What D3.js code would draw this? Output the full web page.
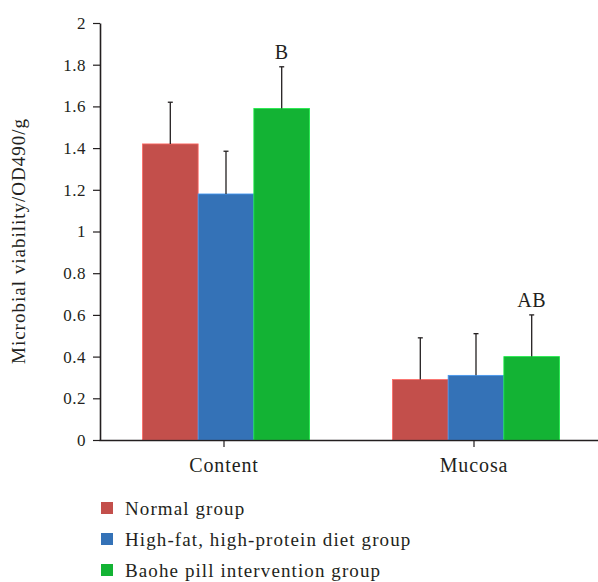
<!DOCTYPE html>
<html><head><meta charset="utf-8">
<script src="https://cdn.jsdelivr.net/npm/d3@7"></script>
<style>body{margin:0;background:#fff}svg{display:block}text{font-family:"Liberation Serif","Times New Roman",serif;fill:#231f20}</style>
</head><body><svg id="c" width="598" height="582"></svg>
<script>
const categories = ["Content", "Mucosa"];
const groups = ["Normal group", "High-fat, high-protein diet group", "Baohe pill intervention group"];
const colors = ["#c34f4b", "#3472b7", "#13b334"];
const means = [[1.42, 1.18, 1.59], [0.29, 0.31, 0.40]];
const errTops = [[1.62, 1.385, 1.79], [0.49, 0.51, 0.60]];
const sigLabels = [["", "", "B"], ["", "", "AB"]];
const yTicks = [0, 0.2, 0.4, 0.6, 0.8, 1, 1.2, 1.4, 1.6, 1.8, 2];
const yLabel = "Microbial viability/OD490/g";

const svg = d3.select("#c");
const x0 = d3.scaleBand().domain(categories).range([99, 599]);
const y = d3.scaleLinear().domain([0, 2]).range([440, 23]);
const barW = 55.7;
const x1 = d3.scaleBand().domain(d3.range(3)).range([-barW*1.5, barW*1.5]);

const data = [];
categories.forEach((c, i) => groups.forEach((g, j) => data.push({c, j, v: means[i][j], e: errTops[i][j], s: sigLabels[i][j]})));

const bx = d => x0(d.c) + x0.bandwidth()/2 + 2 + x1(d.j);

svg.append("g").selectAll("rect").data(data).join("rect")
  .attr("x", bx).attr("width", x1.bandwidth())
  .attr("y", d => y(d.v)).attr("height", d => y(0) - y(d.v))
  .attr("fill", d => colors[d.j])
  .attr("stroke", d => d3.color(colors[d.j]).brighter(0.8)).attr("stroke-width", 0.8);

const eg = svg.append("g").attr("stroke", "#231f20").attr("stroke-width", 1.3);
eg.selectAll("line.v").data(data).join("line").attr("class", "v")
  .attr("x1", d => bx(d) + x1.bandwidth()/2).attr("x2", d => bx(d) + x1.bandwidth()/2)
  .attr("y1", d => y(d.v)).attr("y2", d => y(d.e));
eg.selectAll("line.c").data(data).join("line").attr("class", "c")
  .attr("x1", d => bx(d) + x1.bandwidth()/2 - 2.5).attr("x2", d => bx(d) + x1.bandwidth()/2 + 2.5)
  .attr("y1", d => y(d.e)).attr("y2", d => y(d.e));

svg.append("g").selectAll("text.sig").data(data.filter(d => d.s)).join("text").attr("class", "sig")
  .attr("x", d => bx(d) + x1.bandwidth()/2).attr("y", d => y(d.e) - 8)
  .attr("text-anchor", "middle").attr("font-size", 20).style("letter-spacing", "0.5px").text(d => d.s);

// y axis
const ya = svg.append("g").attr("transform", "translate(100,0)")
  .call(d3.axisLeft(y).tickValues(yTicks).tickSize(7).tickPadding(7).tickSizeOuter(0).tickFormat(d => d3.format("")(+d.toFixed(1))));
ya.select(".domain").attr("stroke", "#231f20").attr("stroke-width", 1.6);
ya.selectAll(".tick line").attr("stroke", "#231f20").attr("stroke-width", 1.2);
ya.selectAll(".tick text").attr("font-size", 17).style("letter-spacing", "0.5px").attr("fill", "#231f20");

// x axis
const xa = svg.append("g").attr("transform", "translate(0,440)")
  .call(d3.axisBottom(x0).tickSize(7).tickPadding(11).tickSizeOuter(0));
xa.select(".domain").attr("stroke", "#231f20").attr("stroke-width", 1.6);
xa.selectAll(".tick line").attr("stroke", "#231f20").attr("stroke-width", 1.2);
xa.selectAll(".tick text").attr("font-size", 20).style("letter-spacing", "0.9px").attr("fill", "#231f20");

svg.append("text").attr("transform", "translate(25,241) rotate(-90)")
  .attr("text-anchor", "middle").attr("font-size", 19).style("letter-spacing", "1px").text(yLabel);

// legend
const lg = svg.append("g").selectAll("g").data(groups).join("g")
  .attr("transform", (d, i) => `translate(101,${508 + i*31})`);
lg.append("rect").attr("x", 0).attr("y", -6).attr("width", 12).attr("height", 12).attr("fill", (d, i) => colors[i]);
lg.append("text").attr("x", 24).attr("y", 7).attr("font-size", 19).style("letter-spacing", "1.1px").text(d => d);
</script></body></html>
